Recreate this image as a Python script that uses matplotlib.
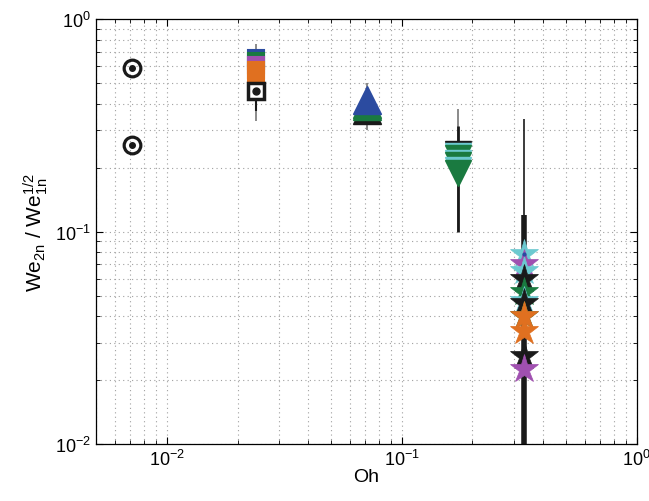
import matplotlib
matplotlib.use("Agg")
import matplotlib.pyplot as plt

plt.rcParams['font.family'] = ['Liberation Sans', 'DejaVu Sans']
plt.rcParams['mathtext.fontset'] = 'custom'
plt.rcParams['mathtext.rm'] = 'Liberation Sans'
plt.rcParams['mathtext.it'] = 'Liberation Sans'

# ---- data ----
oh_circ = 0.0071
circ_vals = [0.588, 0.256]

oh_sq = 0.024
sq_vals = [0.655, 0.635, 0.61, 0.575, 0.55, 0.458]
sq_colors = ['#2B4BA0', '#1A7A40', '#A050B0', '#E07020', '#E07020', 'black']

oh_tri = 0.071
tri_vals = [0.375, 0.39, 0.40, 0.414]
tri_colors = ['#1a1a1a', '#1A7A40', '#1A7A40', '#2B4BA0']

oh_itri = 0.173
itri_vals = [0.232, 0.226, 0.222, 0.210, 0.205, 0.195, 0.188]
itri_colors = ['#1a1a1a', '#6CC9D0', '#1A7A40', '#6CC9D0', '#1A7A40', '#6CC9D0', '#1A7A40']

oh_star = 0.333
star_vals = [0.078, 0.070, 0.065, 0.060, 0.052, 0.047, 0.046, 0.040, 0.040, 0.034, 0.026, 0.0226]
star_colors = ['#6CC9D0', '#A050B0', '#6CC9D0', '#1a1a1a', '#1A7A40', '#6CC9D0',
               '#1a1a1a', '#1A7A40', '#E07020', '#E07020', '#1a1a1a', '#A050B0']

# error ranges (low, high) per group
err_sq = [(0.33, 0.76), (0.37, 0.72)]
err_tri = [(0.30, 0.50), (0.33, 0.45)]
err_itri = [(0.10, 0.377), (0.10, 0.314)]
err_star = [(0.004, 0.338), (0.001, 0.12)]

fig = plt.figure(figsize=(6.49, 5.02), dpi=100)
ax = fig.add_axes([0.148, 0.1135, 0.833, 0.8465])
ax.set_xscale('log')
ax.set_yscale('log')
ax.set_xlim(0.005, 1)
ax.set_ylim(0.01, 1)

def errlines(x, ranges, widths, colors):
    for (lo, hi), w, c in zip(ranges, widths, colors):
        ax.plot([x, x], [lo, hi], color=c, lw=w, zorder=2, solid_capstyle='butt')

errlines(oh_sq, err_sq, [1.2, 1.5], ['#777777', '#1a1a1a'])
errlines(oh_tri, err_tri, [1.2, 1.5], ['#777777', '#1a1a1a'])
errlines(oh_itri, err_itri, [1.2, 2.0], ['#777777', '#1a1a1a'])
errlines(oh_star, err_star, [1.2, 4.0], ['#1a1a1a', '#1a1a1a'])

# circles
for v in circ_vals:
    ax.plot(oh_circ, v, marker='o', ms=12, mfc='none', mec='#1a1a1a', mew=2.3, zorder=3)
    ax.plot(oh_circ, v, marker='o', ms=4, mfc='#1a1a1a', mec='#1a1a1a', zorder=4)

# squares
for v, c in zip(sq_vals, sq_colors):
    if c == 'black':
        ax.plot(oh_sq, v, marker='s', ms=12, mfc='white', mec='#1a1a1a', mew=2.5, zorder=3)
        ax.plot(oh_sq, v, marker='o', ms=5, mfc='#1a1a1a', mec='#1a1a1a', zorder=4)
    else:
        ax.plot(oh_sq, v, marker='s', ms=12, mfc=c, mec=c, mew=1.5, zorder=3)

# triangles
for v, c in zip(tri_vals, tri_colors):
    ax.plot(oh_tri, v, marker='^', ms=20, mfc=c, mec=c, mew=1, zorder=3)

# inverted triangles
for v, c in zip(itri_vals, itri_colors):
    ax.plot(oh_itri, v, marker='v', ms=19, mfc=c, mec=c, mew=1, zorder=3)

# stars
for v, c in zip(star_vals, star_colors):
    ax.plot(oh_star, v, marker='*', ms=21, mfc=c, mec=c, mew=0.5, zorder=3)

ax.plot(oh_star, 0.078, marker='.', ms=4, color='#2B4BA0', zorder=5)
ax.plot(oh_tri, 0.414, marker='.', ms=4, color='#2B4BA0', zorder=5)

ax.grid(True, which='both', linestyle=(0, (1, 3)), color='#a0a0a0', lw=0.8)
ax.tick_params(which='both', direction='in', top=True, right=True, labelsize=13)
ax.tick_params(which='major', length=5)
ax.tick_params(which='minor', length=3)
for s in ax.spines.values():
    s.set_linewidth(0.9)

ax.set_xlabel('Oh', fontsize=14, labelpad=-1)
ax.set_ylabel(r'We$_{2n}$ / We$_{1n}^{1/2}$', fontsize=15, labelpad=4)

fig.savefig('out.png', dpi=100)
